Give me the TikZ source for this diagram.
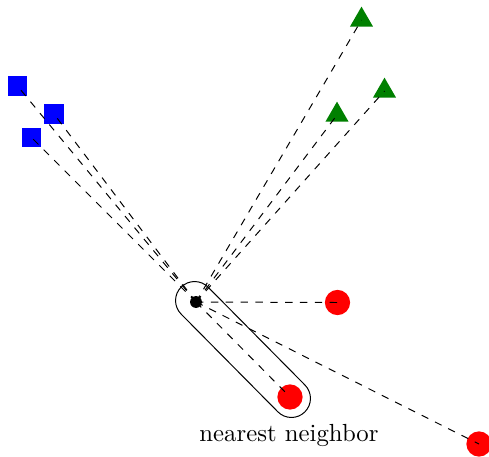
\documentclass[tikz,border=0pt]{standalone}
\usetikzlibrary{shapes.geometric}
\begin{document}
\begin{tikzpicture}[x=0.404pt,y=-0.404pt,
  sq/.style={fill=blue,draw=none,minimum size=7.7pt,inner sep=0pt},
  tri/.style={regular polygon,regular polygon sides=3,fill=green!50!black,draw=none,minimum size=10.8pt,inner sep=0pt},
  rd/.style={circle,fill=red,draw=none,minimum size=10.2pt,inner sep=0pt},
  conn/.style={dashed,line width=0.4pt}]
\useasboundingbox (0,0) rectangle (489,456);
\node[sq] (b1) at (17.5,86) {};
\node[sq] (b2) at (54,114) {};
\node[sq] (b3) at (31.5,137.5) {};
\node[tri] (g1) at (361.5,20) {};
\node[tri] (g2) at (384.5,91) {};
\node[tri] (g3) at (337,115) {};
\node[rd] (r1) at (337.5,302.5) {};
\node[rd] (r2) at (290,397) {};
\node[rd] (r3) at (479,444) {};
\node[circle,fill=black,minimum size=4.8pt,inner sep=0pt] (q) at (196,302) {};
\node[draw,rounded corners=7.7pt,minimum width=71pt,minimum height=15.4pt,rotate=-45.3] (cap) at (243,349.5) {};
\foreach \t in {b1,b2,b3,g1,g2,g3,r1,r2,r3}
  \draw[conn] (q.center) -- (\t.center);
\node (lab) at (289,435) {nearest neighbor};
\end{tikzpicture}
\end{document}
